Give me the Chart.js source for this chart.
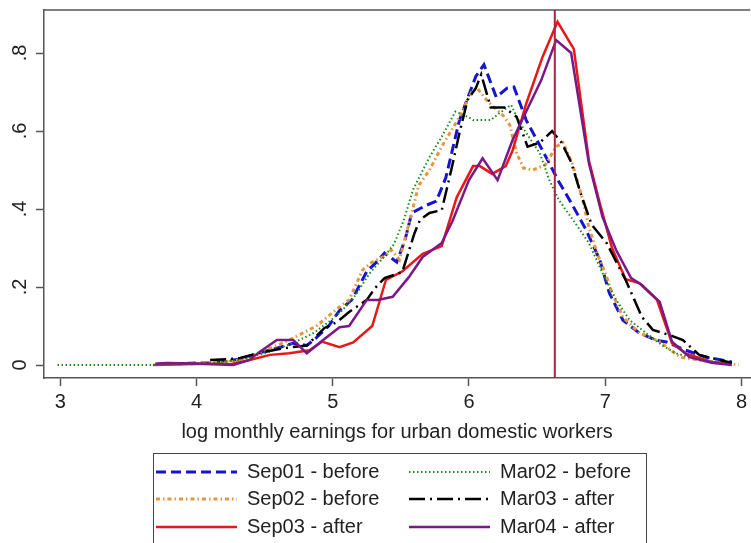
<!DOCTYPE html>
<html>
<head>
<meta charset="utf-8">
<script src="https://cdn.jsdelivr.net/npm/chart.js@4.4.1/dist/chart.umd.min.js"></script>
<style>
  html, body { margin: 0; padding: 0; background: #fff; }
  canvas { display: block; }
</style>
</head>
<body>
<canvas id="densityChart" width="751" height="543"></canvas>
<script>
// tick positions and labels
const xTicks = [3, 4, 5, 6, 7, 8];
const yTicks = [0, 0.2, 0.4, 0.6, 0.8];
const yTickLabels = ['0', '.2', '.4', '.6', '.8'];
const cutoff = 6.63;

// densities, [log earnings, density]
const sep01 = [[3.7,0.002],[3.9,0.004],[4.1,0.006],[4.32,0.015],[4.45,0.03],[4.59,0.043],[4.71,0.056],[4.81,0.05],[4.88,0.07],[4.97,0.1],[5.05,0.14],[5.14,0.167],[5.25,0.24],[5.31,0.26],[5.38,0.287],[5.47,0.264],[5.53,0.32],[5.58,0.39],[5.69,0.41],[5.76,0.42],[5.83,0.48],[5.93,0.628],[6.05,0.74],[6.11,0.77],[6.2,0.687],[6.28,0.71],[6.33,0.713],[6.42,0.628],[6.54,0.55],[6.66,0.47],[6.76,0.41],[6.86,0.346],[6.96,0.27],[7.03,0.185],[7.13,0.115],[7.25,0.082],[7.37,0.064],[7.45,0.059],[7.59,0.038],[7.74,0.02],[7.93,0.008]];
const sep02 = [[3.7,0.002],[3.9,0.003],[4.1,0.005],[4.3,0.012],[4.45,0.03],[4.59,0.05],[4.71,0.069],[4.78,0.082],[4.88,0.1],[4.96,0.123],[5.05,0.149],[5.12,0.167],[5.22,0.244],[5.29,0.264],[5.37,0.277],[5.43,0.295],[5.49,0.27],[5.58,0.39],[5.63,0.46],[5.71,0.5],[5.8,0.56],[5.93,0.636],[6.02,0.7],[6.06,0.71],[6.14,0.675],[6.25,0.64],[6.3,0.615],[6.35,0.543],[6.4,0.505],[6.47,0.5],[6.56,0.513],[6.64,0.56],[6.69,0.57],[6.76,0.515],[6.83,0.43],[6.88,0.354],[6.94,0.287],[7.0,0.236],[7.05,0.185],[7.13,0.123],[7.25,0.082],[7.4,0.06],[7.55,0.02],[7.69,0.013],[7.98,0]];
const sep03 = [[3.68,0],[3.9,0.002],[4.1,0.003],[4.25,0.002],[4.39,0.013],[4.54,0.026],[4.68,0.03],[4.83,0.038],[4.92,0.06],[5.05,0.046],[5.15,0.058],[5.29,0.1],[5.39,0.218],[5.51,0.24],[5.66,0.285],[5.8,0.305],[5.91,0.43],[6.03,0.51],[6.08,0.51],[6.17,0.49],[6.27,0.51],[6.32,0.55],[6.42,0.67],[6.54,0.79],[6.65,0.88],[6.77,0.81],[6.88,0.525],[6.96,0.415],[7.05,0.3],[7.15,0.22],[7.25,0.21],[7.38,0.167],[7.49,0.056],[7.59,0.03],[7.78,0.008],[7.93,0.003]];
const mar02 = [[2.98,0],[3.7,0],[3.9,0.002],[4.1,0.004],[4.3,0.012],[4.5,0.03],[4.7,0.055],[4.85,0.08],[4.97,0.11],[5.07,0.14],[5.17,0.18],[5.27,0.235],[5.37,0.275],[5.45,0.31],[5.52,0.37],[5.59,0.45],[5.71,0.533],[5.8,0.585],[5.9,0.65],[6.0,0.635],[6.03,0.628],[6.16,0.628],[6.22,0.645],[6.31,0.667],[6.35,0.636],[6.42,0.595],[6.52,0.543],[6.59,0.474],[6.66,0.423],[6.78,0.364],[6.88,0.313],[6.98,0.236],[7.08,0.167],[7.18,0.115],[7.3,0.082],[7.42,0.05],[7.52,0.03],[7.69,0.013],[7.89,0.005]];
const mar03 = [[4.1,0.013],[4.25,0.015],[4.32,0.018],[4.45,0.03],[4.59,0.04],[4.68,0.045],[4.81,0.05],[4.94,0.095],[5.03,0.11],[5.12,0.136],[5.25,0.167],[5.31,0.197],[5.38,0.223],[5.51,0.238],[5.6,0.338],[5.64,0.372],[5.71,0.39],[5.8,0.397],[5.87,0.5],[5.93,0.595],[5.99,0.68],[6.05,0.71],[6.09,0.745],[6.16,0.66],[6.26,0.66],[6.35,0.636],[6.43,0.56],[6.52,0.57],[6.61,0.6],[6.68,0.57],[6.75,0.52],[6.82,0.44],[6.9,0.36],[7.01,0.313],[7.15,0.218],[7.27,0.123],[7.35,0.09],[7.47,0.077],[7.57,0.064],[7.69,0.026],[7.93,0.005]];
const mar04 = [[3.7,0.003],[3.78,0.005],[4.0,0.004],[4.27,0],[4.39,0.013],[4.46,0.033],[4.59,0.064],[4.71,0.064],[4.81,0.03],[4.93,0.064],[5.05,0.097],[5.12,0.1],[5.25,0.167],[5.33,0.167],[5.44,0.175],[5.56,0.226],[5.66,0.277],[5.8,0.313],[5.88,0.37],[6.0,0.474],[6.1,0.53],[6.21,0.474],[6.32,0.577],[6.42,0.65],[6.53,0.73],[6.64,0.833],[6.75,0.8],[6.88,0.518],[6.98,0.38],[7.08,0.295],[7.19,0.223],[7.27,0.205],[7.4,0.162],[7.49,0.06],[7.62,0.02],[7.78,0.006],[7.93,0]];

const seriesNames = ['Sep01 - before', 'Sep02 - before', 'Sep03 - after', 'Mar02 - before', 'Mar03 - after', 'Mar04 - after'];
const seriesData = [sep01, sep02, sep03, mar02, mar03, mar04];
const colors = ['#1414d2', '#e8963c', '#e81818', '#1a8a1a', '#000000', '#7a1888'];
const dashes = [[10, 5], [4, 3, 1.5, 3], [], [1.5, 2.5], [16, 5, 2, 5], []];
const widths = [3, 3, 2.5, 2, 2.5, 2.5];

const FONT = '"Liberation Sans", Arial, sans-serif';
const axisColor = '#555';

const datasets = seriesData.map((d, i) => ({
  label: seriesNames[i],
  data: d.map(p => ({ x: p[0], y: p[1] })),
  borderColor: colors[i],
  borderWidth: widths[i],
  borderDash: dashes[i],
  pointRadius: 0,
  fill: false,
  tension: 0,
  order: seriesData.length - i
}));

const extras = {
  id: 'extras',
  afterDatasetsDraw(chart) {
    const { ctx, chartArea, scales } = chart;
    const x = scales.x, y = scales.y;
    ctx.save();

    // cutoff line
    const cx = x.getPixelForValue(cutoff);
    ctx.strokeStyle = '#a8243f';
    ctx.lineWidth = 2;
    ctx.beginPath();
    ctx.moveTo(cx, chartArea.top);
    ctx.lineTo(cx, chartArea.bottom);
    ctx.stroke();

    // top frame
    ctx.strokeStyle = axisColor;
    ctx.lineWidth = 1.5;
    ctx.beginPath();
    ctx.moveTo(chartArea.left, chartArea.top);
    ctx.lineTo(chartArea.right, chartArea.top);
    ctx.stroke();

    // rotated y labels
    ctx.fillStyle = '#222';
    ctx.font = '20px ' + FONT;
    ctx.textAlign = 'center';
    ctx.textBaseline = 'middle';
    yTicks.forEach((v, i) => {
      ctx.save();
      ctx.translate(20, y.getPixelForValue(v));
      ctx.rotate(-Math.PI / 2);
      ctx.fillText(yTickLabels[i], 0, 0);
      ctx.restore();
    });

    // axis title
    ctx.fillText('log monthly earnings for urban domestic workers', (chartArea.left + chartArea.right) / 2, 432);

    // legend box
    const bx = 153, by = 453, bw = 493;
    ctx.strokeStyle = '#444';
    ctx.lineWidth = 1;
    ctx.strokeRect(bx + 0.5, by + 0.5, bw, 120);
    const rows = [472, 499, 527];
    const cols = [156, 409];
    ctx.textAlign = 'left';
    datasets.forEach((ds, i) => {
      const col = Math.floor(i / 3), row = i % 3;
      const lx = cols[col], ly = rows[row];
      ctx.strokeStyle = ds.borderColor;
      ctx.lineWidth = ds.borderWidth;
      ctx.setLineDash(ds.borderDash);
      ctx.beginPath();
      ctx.moveTo(lx, ly);
      ctx.lineTo(lx + 81, ly);
      ctx.stroke();
      ctx.setLineDash([]);
      ctx.fillText(ds.label, lx + 91, ly);
    });
    ctx.restore();
  }
};

new Chart(document.getElementById('densityChart'), {
  type: 'line',
  data: { datasets },
  options: {
    responsive: false,
    animation: false,
    devicePixelRatio: 1,
    layout: { padding: { top: 10, left: 0, right: 0, bottom: 0 } },
    plugins: { legend: { display: false }, tooltip: { enabled: false } },
    scales: {
      x: {
        type: 'linear',
        min: 2.8805,
        max: 8.064,
        afterBuildTicks: s => { s.ticks = xTicks.map(v => ({ value: v })); },
        afterFit: s => { s.height = 165; },
        ticks: { color: '#222', font: { family: FONT, size: 20 }, padding: 4, maxRotation: 0 },
        grid: { drawOnChartArea: false, tickLength: 8, tickColor: axisColor, tickWidth: 1.5 },
        border: { color: axisColor, width: 1.5 }
      },
      y: {
        type: 'linear',
        min: -0.0333,
        max: 0.9103,
        afterBuildTicks: s => { s.ticks = yTicks.map(v => ({ value: v })); },
        afterFit: s => { s.width = 44; },
        ticks: { display: false },
        grid: { drawOnChartArea: false, tickLength: 8, tickColor: axisColor, tickWidth: 1.5 },
        border: { color: axisColor, width: 1.5 }
      }
    }
  },
  plugins: [extras]
});
</script>
</body>
</html>
